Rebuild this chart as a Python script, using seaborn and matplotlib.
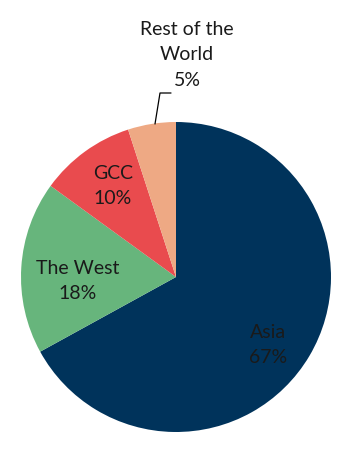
import matplotlib
matplotlib.use("Agg")
import matplotlib.pyplot as plt
import seaborn as sns

categories = ["Asia", "The West", "GCC", "Rest of the\nWorld"]
shares = [67, 18, 10, 5]
colors = ["#00335b", "#67b57c", "#e94b4e", "#eea984"]

sns.set_theme(style="white")
plt.rcParams["font.family"] = ["Lato", "DejaVu Sans"]

fig = plt.figure(figsize=(3.55, 4.53), dpi=100)
cx, cy, r = 176, 277, 155
W, H = 355, 453
ax = fig.add_axes([(cx - r) / W, (H - cy - r) / H, 2 * r / W, 2 * r / H])
ax.pie(shares, colors=colors, startangle=90, counterclock=False,
       wedgeprops=dict(linewidth=0))
ax.set_aspect("auto")
ax.set_xlim(-1, 1)
ax.set_ylim(-1, 1)
ax.axis("off")

def px(x, y):
    return (x - cx) / r, (cy - y) / r

label_px = [(268, 345), (78, 281), (113, 186), (187, 55)]
for cat, val, (lx, ly) in zip(categories, shares, label_px):
    x, y = px(lx, ly)
    ax.text(x, y, f"{cat}\n{val}%", ha="center", va="center", fontsize=14,
            color="#1a1a1a", linespacing=1.58, clip_on=False)

pts = [px(155, 124), px(160, 93), px(171, 93)]
ax.plot([p[0] for p in pts], [p[1] for p in pts], color="black", lw=0.9,
        clip_on=False)

fig.savefig("out.png", dpi=100)
